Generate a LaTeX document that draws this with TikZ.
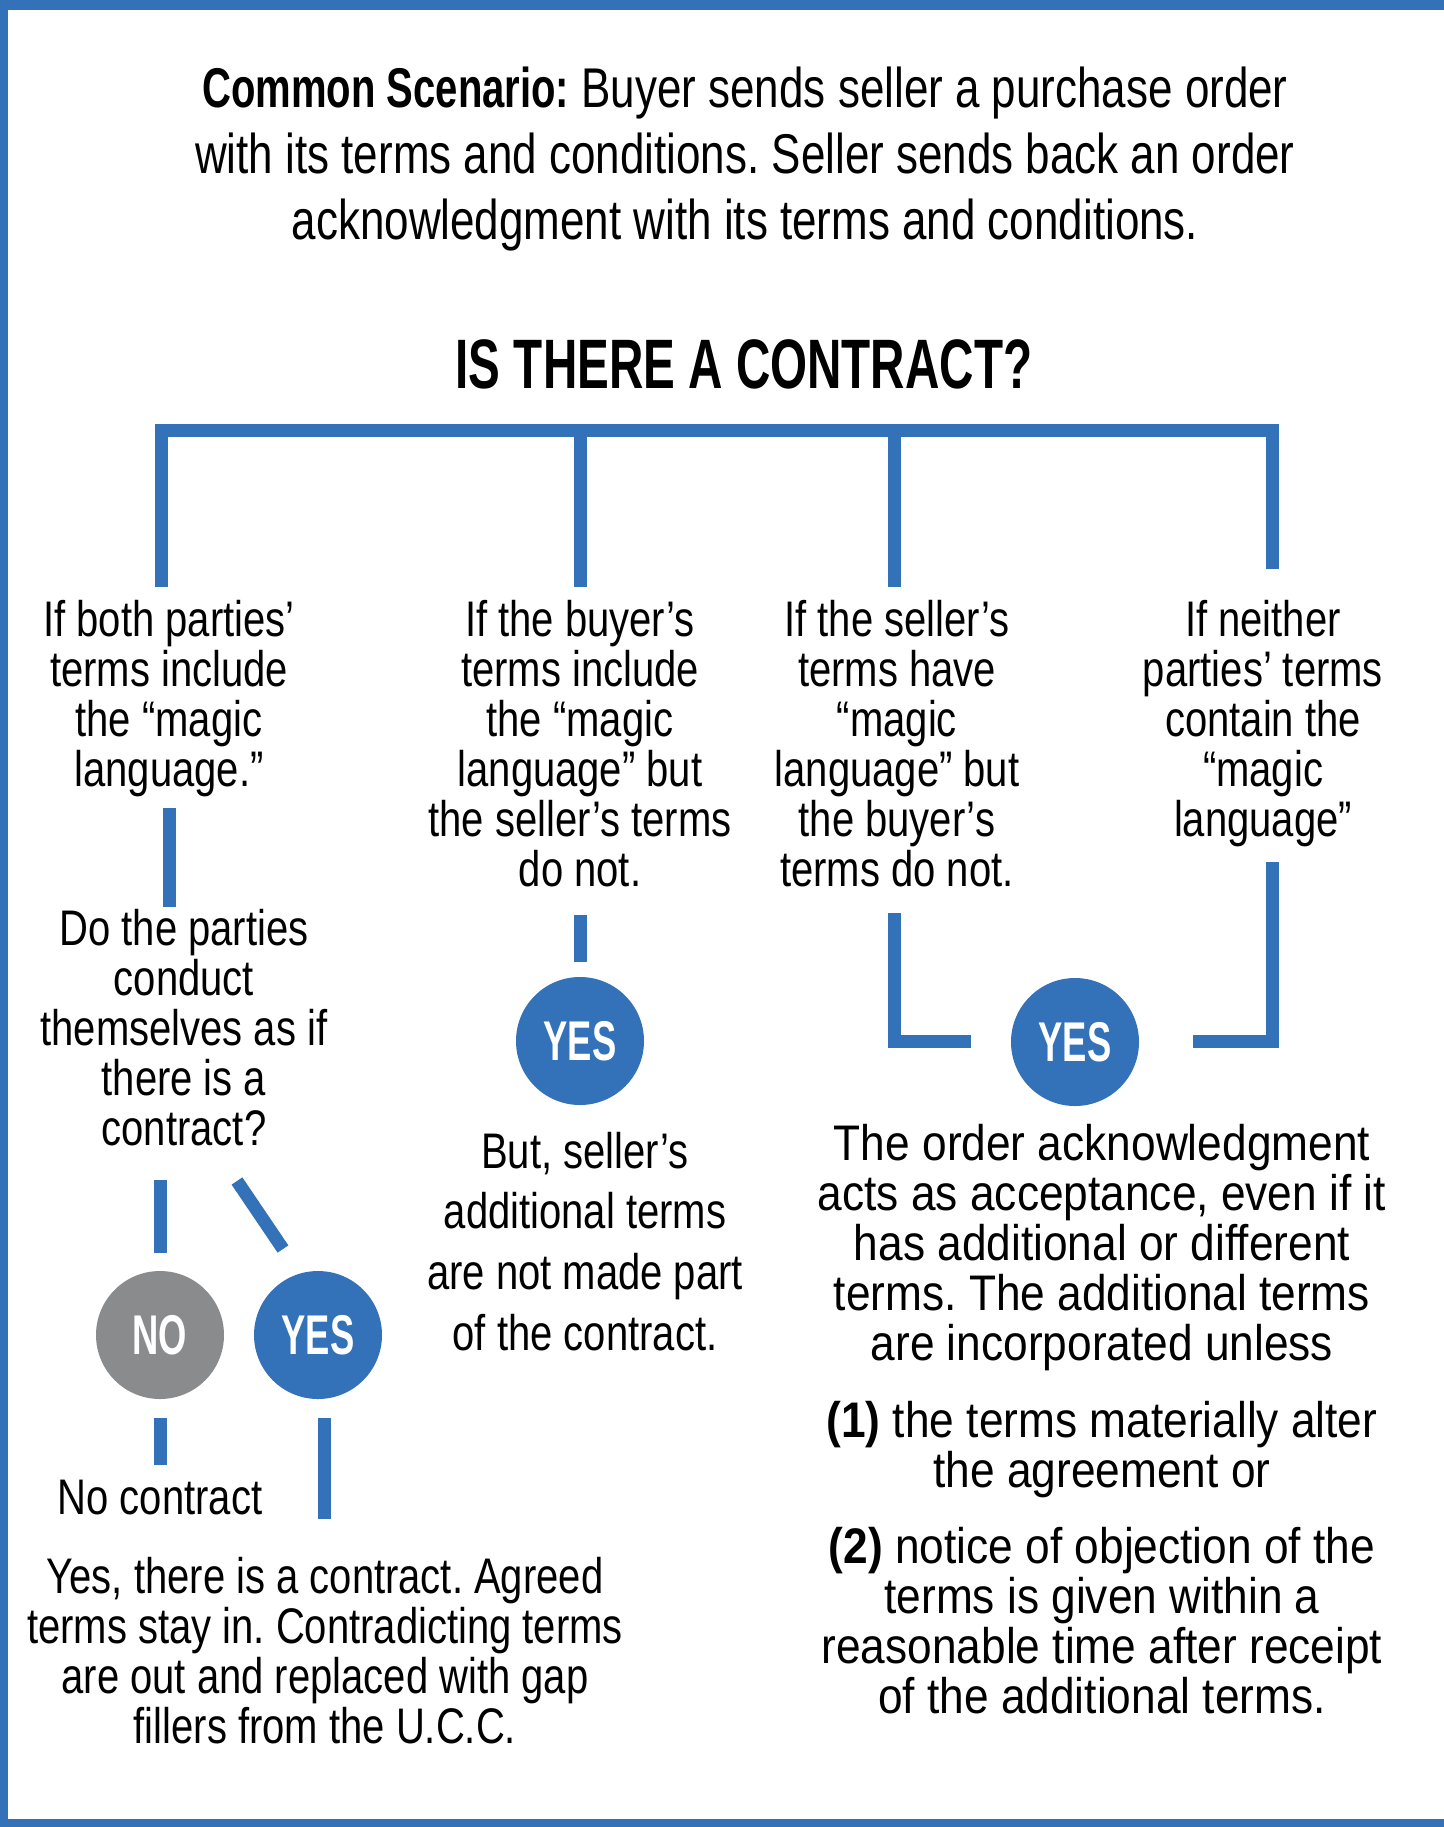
\documentclass[tikz,border=0pt]{standalone}
\usepackage{fontspec}
\setmainfont{Liberation Sans}[FakeStretch=0.8]
\newfontfamily\headfont{Liberation Sans}[FakeStretch=0.68]
\newfontfamily\introfont{Liberation Sans}[FakeStretch=0.785]
\newfontfamily\leadfont{Liberation Sans}[FakeStretch=0.715]
\newfontfamily\widefont{Liberation Sans}[FakeStretch=0.885]
\newfontfamily\circfont{Liberation Sans}[FakeStretch=0.65]
\definecolor{ccblue}{RGB}{51,113,184}
\definecolor{ccgray}{RGB}{138,139,141}
\frenchspacing
\begin{document}
\begin{tikzpicture}[
  x=0.5pt, y=-0.5pt,
  link/.style={draw=ccblue, line width=6.5pt},
  body/.style={align=center, inner sep=0pt, anchor=base, font=\fontsize{25}{25}\selectfont},
  wide/.style={body, font=\fontsize{25}{30.3}\selectfont},
  rule/.style={body, font=\widefont\fontsize{25}{25}\selectfont},
  circ/.style={circle, fill=ccblue, minimum size=64pt, inner sep=0pt, text=white,
    font=\circfont\bfseries\fontsize{28}{28}\selectfont}
]
\useasboundingbox (0,0) rectangle (1444,1827);
% frame
\fill[ccblue] (0,0) rectangle (1444,10);
\fill[ccblue] (0,0) rectangle (8,1827);
\fill[ccblue] (0,1819) rectangle (1444,1827);

% heading (base = last line)
\node[align=center, inner sep=0pt, anchor=base, font=\introfont\fontsize{28}{33}\selectfont] (intro) at (745,239)
  {{\leadfont\bfseries Common Scenario:} Buyer sends seller a purchase order\\
   with its terms and conditions. Seller sends back an order\\
   acknowledgment with its terms and conditions.};
\node[inner sep=0pt, anchor=base, font=\headfont\bfseries\fontsize{35}{35}\selectfont] (title) at (744,388)
  {IS THERE A CONTRACT?};

% tree
\coordinate (b1) at (161,587);
\coordinate (b2) at (580,587);
\coordinate (b3) at (894,587);
\coordinate (b4) at (1272,569);
\draw[link] (b1) -- (161,430) -| (b4);
\draw[link] (580,430) -- (b2);
\draw[link] (894,430) -- (b3);

\node[body] (both) at (169,786) {If both parties’\\terms include\\the “magic\\language.”};
\node[body] (buyer) at (580,886) {If the buyer’s\\terms include\\the “magic\\language” but\\the seller’s terms\\do not.};
\node[body] (seller) at (897,886) {If the seller’s\\terms have\\“magic\\language” but\\the buyer’s\\terms do not.};
\node[body] (neither) at (1263,836) {If neither\\parties’ terms\\contain the\\“magic\\language”};

% left branch
\draw[link] (169,808) -- (169,907);
\node[body] (conduct) at (184,1145) {Do the parties\\conduct\\themselves as if\\there is a\\contract?};
\node[circ, fill=ccgray] (no) at (160,1335) {NO};
\node[circ] (yesa) at (318,1335) {YES};
\draw[link] (160,1180) -- (160,1253);
\draw[link] (237,1181) -- (283,1249);
\draw[link] (160,1418) -- (160,1465);
\draw[link] (324,1418) -- (324,1519);
\node[body] (nocon) at (160,1514) {No contract};
\node[body] (yescon) at (325,1743) {Yes, there is a contract. Agreed\\terms stay in. Contradicting terms\\are out and replaced with gap\\fillers from the U.C.C.};

% middle branch
\draw[link] (580,915) -- (580,962);
\node[circ] (yesb) at (580,1041) {YES};
\node[wide] (notpart) at (585,1350) {But, seller’s\\additional terms\\are not made part\\of the contract.};

% right branch
\node[circ] (yesc) at (1075,1042) {YES};
\draw[link] (894,913) |- (971,1041);
\draw[link] (1272,862) |- (1193,1041);
\node[rule] (accept) at (1102,1360) {The order acknowledgment\\acts as acceptance, even if it\\has additional or different\\terms. The additional terms\\are incorporated unless};
\node[rule] (alter) at (1102,1487) {\textbf{(1)} the terms materially alter\\the agreement or};
\node[rule] (notice) at (1102,1713) {\textbf{(2)} notice of objection of the\\terms is given within a\\reasonable time after receipt\\of the additional terms.};
\end{tikzpicture}
\end{document}
